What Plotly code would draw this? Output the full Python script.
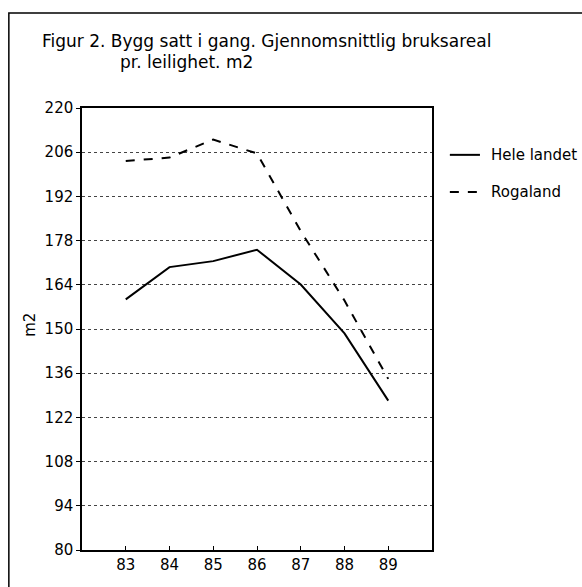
import plotly.graph_objects as go

years = [83, 84, 85, 86, 87, 88, 89]
hele_landet = [159.4, 169.6, 171.5, 175.1, 164.1, 148.6, 127.3]
rogaland = [203.2, 204.3, 210.0, 205.6, 181.0, 159.0, 134.2]
y_ticks = [80, 94, 108, 122, 136, 150, 164, 178, 192, 206, 220]
series_names = ["Hele landet", "Rogaland"]

font = "DejaVu Sans, sans-serif"

fig = go.Figure()
fig.add_trace(go.Scatter(x=years, y=hele_landet, mode="lines", name=series_names[0],
                         line=dict(color="black", width=2)))
fig.add_trace(go.Scatter(x=years, y=rogaland, mode="lines", name=series_names[1],
                         line=dict(color="black", width=2, dash="dash")))

# legend drawn by hand, the right margin is too narrow for plotly's own
legend_y = [0.894, 0.81]
legend_dash = ["solid", "dash"]
shapes = [dict(type="rect", xref="paper", yref="paper",
               x0=-0.209, x1=1.5, y0=-0.2, y1=1.215,
               line=dict(color="black", width=1.5), layer="below")]
annotations = [
    dict(text="Figur 2. Bygg satt i gang. Gjennomsnittlig bruksareal",
         xref="paper", yref="paper", x=-0.12, y=1.152, xanchor="left",
         yanchor="middle", showarrow=False, font=dict(size=17)),
    dict(text="pr. leilighet. m2",
         xref="paper", yref="paper", x=0.103, y=1.104, xanchor="left",
         yanchor="middle", showarrow=False, font=dict(size=17)),
    dict(text="m2", xref="paper", yref="paper", x=-0.149, y=0.509,
         xanchor="center", yanchor="middle", textangle=-90,
         showarrow=False, font=dict(size=15)),
]
for name, ly, dash in zip(series_names, legend_y, legend_dash):
    shapes.append(dict(type="line", xref="paper", yref="paper",
                       x0=1.051, x1=1.137, y0=ly, y1=ly,
                       line=dict(color="black", width=2, dash=dash)))
    annotations.append(dict(text=name, xref="paper", yref="paper", x=1.163, y=ly,
                            xanchor="left", yanchor="middle", showarrow=False,
                            font=dict(size=15)))

fig.update_layout(
    width=582, height=587,
    margin=dict(l=82, r=150, t=108, b=37, autoexpand=False),
    paper_bgcolor="white", plot_bgcolor="white",
    font=dict(family=font, size=15, color="black"),
    showlegend=False,
    annotations=annotations,
    shapes=shapes,
)
fig.update_xaxes(range=[82, 90], tickvals=years, ticktext=[str(y) for y in years],
                 showline=True, linecolor="black", linewidth=1.5, mirror=True,
                 ticks="inside", ticklen=4, tickcolor="black",
                 showgrid=False, zeroline=False)
fig.update_yaxes(range=[80, 220], tickvals=y_ticks,
                 showline=True, linecolor="black", linewidth=1.5, mirror=True,
                 ticks="outside", ticklen=4, tickcolor="black",
                 showgrid=True, gridcolor="#444", gridwidth=1, griddash="dot",
                 zeroline=False)

fig.write_html("out.html", config={"displayModeBar": False},
               post_script="document.body.style.margin='0px';")
